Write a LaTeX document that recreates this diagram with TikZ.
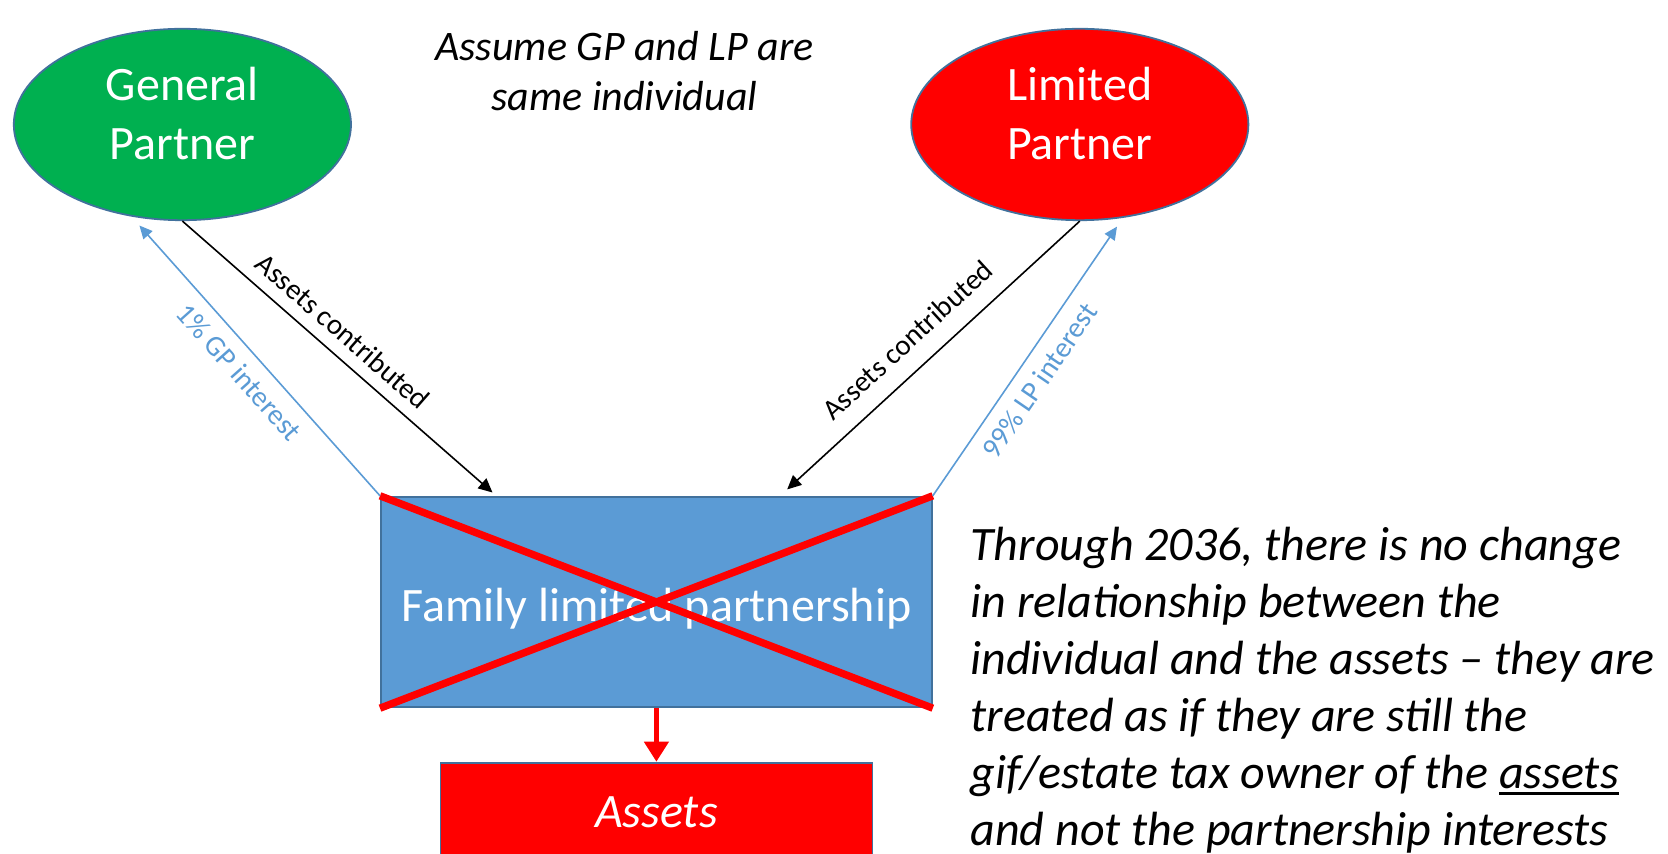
\documentclass[tikz,border=0pt]{standalone}
\usepackage{fontspec}
\setmainfont{Carlito}
\usetikzlibrary{shapes.geometric,arrows.meta}
\definecolor{gpgreen}{HTML}{00B050}
\definecolor{lpred}{HTML}{FF0000}
\definecolor{flpblue}{HTML}{5B9BD5}
\definecolor{edgeblue}{HTML}{41719C}
\newcommand\ulword[1]{\setbox0\hbox{#1}\rlap{\rule[-3pt]{\wd0}{1.1pt}}\box0}
\begin{document}
\begin{tikzpicture}[x=0.5pt,y=-0.5pt,
 partner/.style={ellipse,draw=edgeblue,line width=0.9pt,minimum width=168.6pt,minimum height=95.7pt,inner sep=0pt},
 bigtext/.style={text=white,font=\fontsize{24}{29}\selectfont,inner sep=0pt,anchor=base},
 headnote/.style={font=\fontsize{21}{25}\selectfont\itshape,inner sep=0pt,anchor=base},
 note/.style={font=\fontsize{24}{29}\selectfont\itshape,inner sep=0pt,anchor=base west},
 box/.style={draw=edgeblue,line width=0.9pt,inner sep=0pt},
 flow/.style={draw=black,line width=0.8pt,-{Triangle[length=7pt,width=6.5pt]}},
 share/.style={draw=flpblue,line width=0.8pt,-{Triangle[length=6.5pt,width=6pt]}},
 lbl/.style={font=\fontsize{14.5}{17}\selectfont,inner sep=0pt,sloped},
 cross/.style={draw=lpred,line width=3.7pt},
 down/.style={draw=lpred,line width=2.2pt,-{Triangle[length=10pt,width=12pt]}},
]
\useasboundingbox (0,0) rectangle (1668,854);
\clip (0,0) rectangle (1668,854);

% partners
\node[partner,fill=gpgreen] (gp) at (182.4,124.5) {};
\node[partner,fill=lpred] (lp) at (1079.8,124.5) {};
\node[bigtext] (gpt1) at (182.4,101) {General};
\node[bigtext] (gpt2) at (182.4,159.6) {Partner};
\node[bigtext] (lpt1) at (1079.8,101) {Limited};
\node[bigtext] (lpt2) at (1079.8,159.6) {Partner};

% top note
\node[headnote] (as1) at (624.4,60.6) {Assume GP and LP are};
\node[headnote] (as2) at (624.4,110.6) {same individual};

% partnership box
\node[box,fill=flpblue,minimum width=275.5pt,minimum height=105.3pt] (flp) at (656.4,602) {};
\node[bigtext] (flpt) at (656.4,621.3) {Family limited partnership};
\draw[cross] (flp.north west) -- (flp.south east);
\draw[cross] (flp.south west) -- (flp.north east);

% assets box
\node[box,fill=lpred,minimum width=216pt,minimum height=70pt,anchor=north] (assets) at (656.4,761.7) {};
\node[bigtext,font=\fontsize{24}{29}\selectfont\itshape] (assetst) at (656.4,827.6) {Assets};
\draw[down] (flp.south) -- (assets.north);

% connectors
\coordinate (inL) at (492.5,492.5);
\coordinate (inR) at (787.2,489.4);
\coordinate (outL) at (139.4,225.5);
\coordinate (outR) at (1117,226.6);
\draw[flow] (gp.south) -- node[lbl,pos=0.469,above=6pt] {Assets contributed} (inL);
\draw[flow] (lp.south) -- node[lbl,pos=0.522,above=9pt] {Assets contributed} (inR);
\draw[share] (flp.north west) -- node[lbl,pos=0.513,below=6pt,text=flpblue] {1\% GP interest} (outL);
\draw[share] (flp.north east) -- node[lbl,pos=0.476,below=6pt,text=flpblue] {99\% LP interest} (outR);

% side note
\node[note] (n1) at (970.2,560.6) {Through 2036, there is no change};
\node[note] (n2) at (970.2,617.6) {in relationship between the};
\node[note] (n3) at (970.2,674.6) {individual and the assets – they are};
\node[note] (n4) at (970.2,731.6) {treated as if they are still the};
\node[note] (n5) at (970.2,788.6) {gif/estate tax owner of the \ulword{assets}};
\node[note] (n6) at (970.2,845.6) {and not the partnership interests};
\end{tikzpicture}
\end{document}
